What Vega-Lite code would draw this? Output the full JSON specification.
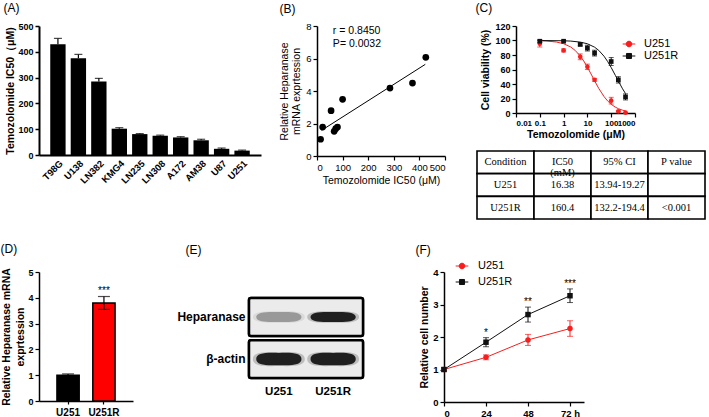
{
  "$schema": "https://vega.github.io/schema/vega-lite/v6.json",
  "padding": {"left": 0, "top": 1, "right": 0, "bottom": 0},
  "config": {
    "font": "Liberation Sans",
    "view": {"stroke": null},
    "axis": {"grid": false, "labelOverlap": false, "domainColor": "black", "tickColor": "black", "labelColor": "black", "titleColor": "black", "labelFont": "Liberation Sans", "titleFont": "Liberation Sans", "tickSize": 4, "tickWidth": 1.2, "domainWidth": 1.5},
    "legend": {"labelFont": "Liberation Sans", "labelColor": "black"}
  },
  "datasets": {
    "a": [
      {"cell": "T98G", "ic50": 429, "hi": 452},
      {"cell": "U138", "ic50": 375, "hi": 390},
      {"cell": "LN382", "ic50": 285, "hi": 297},
      {"cell": "KMG4", "ic50": 102, "hi": 106},
      {"cell": "LN235", "ic50": 81, "hi": 83},
      {"cell": "LN308", "ic50": 75, "hi": 77},
      {"cell": "A172", "ic50": 68, "hi": 71},
      {"cell": "AM38", "ic50": 57, "hi": 61},
      {"cell": "U87", "ic50": 24, "hi": 27},
      {"cell": "U251", "ic50": 17, "hi": 19}
    ],
    "b": [
      {"ic50": 14, "expr": 1.03},
      {"ic50": 22, "expr": 1.78},
      {"ic50": 55, "expr": 2.79},
      {"ic50": 67, "expr": 1.52},
      {"ic50": 73, "expr": 1.68},
      {"ic50": 80, "expr": 1.78},
      {"ic50": 100, "expr": 3.49},
      {"ic50": 285, "expr": 4.18},
      {"ic50": 373, "expr": 4.49},
      {"ic50": 425, "expr": 6.07}
    ],
    "b_fit": [
      {"ic50": 18, "expr": 1.58},
      {"ic50": 423, "expr": 5.64}
    ],
    "b_text": [
      {"ic50": 62, "expr": 7.7, "label": "r = 0.8450"},
      {"ic50": 62, "expr": 6.9, "label": "P= 0.0032"}
    ],
    "c_pts": [
      {"series": "U251", "conc": 0.1, "via": 95.5, "lo": 91, "hi": 100},
      {"series": "U251", "conc": 1, "via": 86.3, "lo": 84.3, "hi": 88.3},
      {"series": "U251", "conc": 5, "via": 77.5, "lo": 73.5, "hi": 81.5},
      {"series": "U251", "conc": 10, "via": 63.7, "lo": 60, "hi": 67.4},
      {"series": "U251", "conc": 20, "via": 45.7, "lo": 43.7, "hi": 47.7},
      {"series": "U251", "conc": 100, "via": 17, "lo": 12.4, "hi": 21.6},
      {"series": "U251", "conc": 200, "via": 2.3, "lo": 1.3, "hi": 3.3},
      {"series": "U251", "conc": 400, "via": 0.5, "lo": 0, "hi": 1},
      {"series": "U251R", "conc": 0.1, "via": 99, "lo": 97.5, "hi": 100.5},
      {"series": "U251R", "conc": 1, "via": 99, "lo": 98, "hi": 100},
      {"series": "U251R", "conc": 5, "via": 94.6, "lo": 92.6, "hi": 96.6},
      {"series": "U251R", "conc": 10, "via": 89.5, "lo": 85.5, "hi": 93.5},
      {"series": "U251R", "conc": 20, "via": 82.6, "lo": 78.6, "hi": 86.6},
      {"series": "U251R", "conc": 100, "via": 71, "lo": 65.5, "hi": 76.5},
      {"series": "U251R", "conc": 200, "via": 45.7, "lo": 41.3, "hi": 50.1},
      {"series": "U251R", "conc": 400, "via": 22.2, "lo": 18, "hi": 26.4}
    ],
    "c_fit": [
      {"series": "U251", "conc": 0.1, "via": 99.6},
      {"series": "U251", "conc": 0.2, "via": 99.2},
      {"series": "U251", "conc": 0.5, "via": 97.9},
      {"series": "U251", "conc": 1, "via": 95.6},
      {"series": "U251", "conc": 2, "via": 91.0},
      {"series": "U251", "conc": 3, "via": 86.6},
      {"series": "U251", "conc": 5, "via": 78.7},
      {"series": "U251", "conc": 7, "via": 71.8},
      {"series": "U251", "conc": 10, "via": 63.2},
      {"series": "U251", "conc": 15, "via": 52.4},
      {"series": "U251", "conc": 20, "via": 44.5},
      {"series": "U251", "conc": 30, "via": 33.9},
      {"series": "U251", "conc": 50, "via": 22.7},
      {"series": "U251", "conc": 70, "via": 16.8},
      {"series": "U251", "conc": 100, "via": 12.0},
      {"series": "U251", "conc": 150, "via": 8.0},
      {"series": "U251", "conc": 200, "via": 6.0},
      {"series": "U251", "conc": 300, "via": 3.9},
      {"series": "U251", "conc": 400, "via": 2.9},
      {"series": "U251R", "conc": 0.1, "via": 100},
      {"series": "U251R", "conc": 1, "via": 99.6},
      {"series": "U251R", "conc": 2, "via": 99.2},
      {"series": "U251R", "conc": 5, "via": 97.8},
      {"series": "U251R", "conc": 10, "via": 95.5},
      {"series": "U251R", "conc": 20, "via": 90.8},
      {"series": "U251R", "conc": 30, "via": 86.4},
      {"series": "U251R", "conc": 50, "via": 78.3},
      {"series": "U251R", "conc": 70, "via": 71.3},
      {"series": "U251R", "conc": 100, "via": 62.7},
      {"series": "U251R", "conc": 150, "via": 51.8},
      {"series": "U251R", "conc": 200, "via": 44.0},
      {"series": "U251R", "conc": 300, "via": 33.4},
      {"series": "U251R", "conc": 400, "via": 26.8}
    ],
    "table": [
      {"row": "header", "col": "Condition", "text": "Condition"},
      {"row": "header", "col": "IC50", "text": "IC50\n(mM)"},
      {"row": "header", "col": "CI", "text": "95% CI"},
      {"row": "header", "col": "P", "text": "P value"},
      {"row": "U251", "col": "Condition", "text": "U251"},
      {"row": "U251", "col": "IC50", "text": "16.38"},
      {"row": "U251", "col": "CI", "text": "13.94-19.27"},
      {"row": "U251", "col": "P", "text": ""},
      {"row": "U251R", "col": "Condition", "text": "U251R"},
      {"row": "U251R", "col": "IC50", "text": "160.4"},
      {"row": "U251R", "col": "CI", "text": "132.2-194.4"},
      {"row": "U251R", "col": "P", "text": "<0.001"}
    ],
    "d": [
      {"group": "U251", "expr": 1.0, "lo": 0.96, "hi": 1.05, "sig": ""},
      {"group": "U251R", "expr": 3.8, "lo": 3.55, "hi": 4.05, "sig": "***"}
    ],
    "e": [
      {"blot": "Heparanase", "lane": "U251", "intensity": 0.35},
      {"blot": "Heparanase", "lane": "U251R", "intensity": 1},
      {"blot": "β-actin", "lane": "U251", "intensity": 1},
      {"blot": "β-actin", "lane": "U251R", "intensity": 1}
    ],
    "f": [
      {"series": "U251", "time": 0, "rel": 1.0, "lo": 0.95, "hi": 1.05, "sig": ""},
      {"series": "U251", "time": 24, "rel": 1.375, "lo": 1.3, "hi": 1.45, "sig": ""},
      {"series": "U251", "time": 48, "rel": 1.91, "lo": 1.74, "hi": 2.08, "sig": ""},
      {"series": "U251", "time": 72, "rel": 2.26, "lo": 2.02, "hi": 2.5, "sig": ""},
      {"series": "U251R", "time": 0, "rel": 1.0, "lo": 0.95, "hi": 1.05, "sig": ""},
      {"series": "U251R", "time": 24, "rel": 1.84, "lo": 1.7, "hi": 1.98, "sig": "*"},
      {"series": "U251R", "time": 48, "rel": 2.69, "lo": 2.46, "hi": 2.92, "sig": "**"},
      {"series": "U251R", "time": 72, "rel": 3.27, "lo": 3.06, "hi": 3.48, "sig": "***"}
    ]
  },
  "spacing": 22,
  "resolve": {"scale": {"color": "independent", "shape": "independent", "opacity": "independent", "fillOpacity": "independent"}},
  "vconcat": [
    {
      "spacing": 18,
      "resolve": {"scale": {"color": "independent", "shape": "independent"}},
      "hconcat": [
        {
          "width": 222, "height": 129,
          "data": {"name": "a"},
          "resolve": {"scale": {"x": "independent"}},
          "layer": [
            {
              "encoding": {
                "x": {"field": "cell", "type": "nominal", "sort": null, "scale": {"paddingInner": 0.25, "paddingOuter": 0.55},
                  "axis": {"title": null, "labelAngle": -45, "labelFontWeight": "bold", "labelFontSize": 9.5, "ticks": false, "domainWidth": 2, "labelPadding": 3, "labelOverlap": false}}
              },
              "layer": [
                {"mark": {"type": "bar", "color": "black"},
                 "encoding": {"y": {"field": "ic50", "type": "quantitative", "scale": {"domain": [0, 500]},
                   "axis": {"values": [0, 100, 200, 300, 400, 500], "tickCount": 20, "format": "d", "labelOverlap": false, "title": "Temozolomide IC50（μM)", "titleFontWeight": "bold", "titleFontSize": 10.5, "labelFontWeight": "bold", "labelFontSize": 9, "domainWidth": 2, "tickWidth": 1.5, "titlePadding": 2}}}},
                {"mark": {"type": "rule", "color": "black", "strokeWidth": 1.2},
                 "encoding": {"y": {"field": "ic50", "type": "quantitative"}, "y2": {"field": "hi"}}},
                {"mark": {"type": "tick", "color": "black", "thickness": 1.2, "size": 8},
                 "encoding": {"y": {"field": "hi", "type": "quantitative"}}}
              ]
            },
            {"mark": {"type": "text", "text": ""},
             "encoding": {"x": {"field": "cell", "type": "nominal", "axis": {"orient": "top", "title": "(A)", "labels": false, "ticks": false, "domain": false, "titleX": -36, "titleY": -19, "titleAlign": "left", "titleBaseline": "middle", "titleAngle": 0, "titleFontSize": 12, "titleFontWeight": "normal"}}}}
          ]
        },
        {
          "spacing": 29,
          "resolve": {"scale": {"color": "independent", "shape": "independent"}},
          "hconcat": [
            {
              "width": 128, "height": 130,
              "resolve": {"scale": {"x": "independent"}},
              "layer": [
                {"layer": [
                  {"data": {"name": "b"}, "mark": {"type": "point", "filled": true, "color": "black", "size": 45, "opacity": 1},
                   "encoding": {
                     "x": {"field": "ic50", "type": "quantitative", "scale": {"domain": [0, 500]},
                       "axis": {"values": [0, 100, 200, 300, 400, 500], "tickCount": 20, "format": "d", "labelOverlap": false, "title": "Temozolomide IC50 (μM)", "titleFontSize": 10.5, "titleFontWeight": "normal", "labelFontSize": 9.5, "labelPadding": 2, "titlePadding": 4}},
                     "y": {"field": "expr", "type": "quantitative", "scale": {"domain": [0, 8]},
                       "axis": {"values": [0, 2, 4, 6, 8], "tickCount": 20, "format": "d", "labelOverlap": false, "title": ["Relative Heparanase", "mRNA exprtession"], "titleFontSize": 10.5, "titleFontWeight": "normal", "titleLineHeight": 12, "labelFontSize": 9.5, "titlePadding": 4}}
                   }},
                  {"data": {"name": "b_fit"}, "mark": {"type": "line", "color": "black", "strokeWidth": 1},
                   "encoding": {"x": {"field": "ic50", "type": "quantitative"}, "y": {"field": "expr", "type": "quantitative"}}},
                  {"data": {"name": "b_text"}, "mark": {"type": "text", "align": "left", "baseline": "middle", "fontSize": 10.5, "color": "black"},
                   "encoding": {"x": {"field": "ic50", "type": "quantitative"}, "y": {"field": "expr", "type": "quantitative"}, "text": {"field": "label"}}}
                ]},
                {"data": {"name": "b"}, "mark": {"type": "text", "text": ""},
                 "encoding": {"x": {"field": "ic50", "type": "quantitative", "axis": {"orient": "top", "title": "(B)", "labels": false, "ticks": false, "domain": false, "titleX": -38, "titleY": -18, "titleAlign": "left", "titleBaseline": "middle", "titleAngle": 0, "titleFontSize": 12, "titleFontWeight": "normal"}}}}
              ]
            },
            {
              "spacing": 10,
              "resolve": {"scale": {"color": "independent", "shape": "independent"}},
              "vconcat": [
                {
                  "width": 119, "height": 87,
                  "resolve": {"scale": {"x": "independent"}},
                  "layer": [
                    {"layer": [
                      {"data": {"name": "c_pts"},
                       "mark": {"type": "point", "filled": false, "size": 1, "strokeWidth": 1, "opacity": 1},
                       "encoding": {"x": {"field": "conc", "type": "quantitative"}, "y": {"field": "via", "type": "quantitative"},
                         "color": {"field": "series", "type": "nominal", "scale": {"domain": ["U251", "U251R"], "range": ["#f81e1e", "#111111"]},
                           "legend": {"title": null, "orient": "none", "legendX": 106, "legendY": 11, "labelFontSize": 11, "labelOffset": 8, "rowPadding": 0, "symbolSize": 160, "symbolStrokeWidth": 1, "symbolOpacity": 1, "padding": 0}},
                         "shape": {"field": "series", "type": "nominal", "scale": {"domain": ["U251", "U251R"], "range": ["M-1,0H1M-0.44,0A0.44,0.44,0,1,1,0.44,0A0.44,0.44,0,1,1,-0.44,0M-0.33,0A0.33,0.33,0,1,1,0.33,0A0.33,0.33,0,1,1,-0.33,0M-0.22,0A0.22,0.22,0,1,1,0.22,0A0.22,0.22,0,1,1,-0.22,0M-0.11,0A0.11,0.11,0,1,1,0.11,0A0.11,0.11,0,1,1,-0.11,0", "M-1,0H1M-0.4,-0.4H0.4V0.4H-0.4ZM-0.3,-0.3H0.3V0.3H-0.3ZM-0.2,-0.2H0.2V0.2H-0.2ZM-0.1,-0.1H0.1V0.1H-0.1Z"]}}
                       }},
                      {"data": {"name": "c_fit"}, "mark": {"type": "line", "strokeWidth": 1},
                       "encoding": {
                         "x": {"field": "conc", "type": "quantitative", "scale": {"type": "log", "domain": [0.01, 1000]},
                           "axis": {"values": [0.01, 0.1, 1, 10, 100, 1000], "tickCount": 20, "labelOverlap": false, "format": "~g", "title": "Temozolomide (μM)", "titleFontSize": 10.5, "titleFontWeight": "bold", "labelFontSize": 8, "labelFontWeight": "bold", "labelPadding": 2, "titlePadding": 2}},
                         "y": {"field": "via", "type": "quantitative", "scale": {"domain": [0, 120]},
                           "axis": {"values": [0, 20, 40, 60, 80, 100, 120], "tickCount": 20, "format": "d", "labelOverlap": false, "title": "Cell viability (%)", "titleFontSize": 10.5, "titleFontWeight": "bold", "labelFontSize": 9, "labelFontWeight": "bold", "titlePadding": 4}},
                         "color": {"field": "series", "type": "nominal"}
                       }},
                      {"data": {"name": "c_pts"}, "mark": {"type": "rule", "strokeWidth": 1},
                       "encoding": {"x": {"field": "conc", "type": "quantitative"}, "y": {"field": "lo", "type": "quantitative"}, "y2": {"field": "hi"},
                         "color": {"field": "series", "type": "nominal"}}},
                      {"data": {"name": "c_pts"}, "mark": {"type": "tick", "orient": "horizontal", "thickness": 1, "size": 5},
                       "encoding": {"x": {"field": "conc", "type": "quantitative"}, "y": {"field": "hi", "type": "quantitative"},
                         "color": {"field": "series", "type": "nominal"}}},
                      {"data": {"name": "c_pts"}, "mark": {"type": "tick", "orient": "horizontal", "thickness": 1, "size": 5},
                       "encoding": {"x": {"field": "conc", "type": "quantitative"}, "y": {"field": "lo", "type": "quantitative"},
                         "color": {"field": "series", "type": "nominal"}}},
                      {"data": {"name": "c_pts"}, "transform": [{"filter": "datum.series == 'U251'"}],
                       "mark": {"type": "point", "filled": true, "size": 22, "opacity": 1, "shape": "circle"},
                       "encoding": {"x": {"field": "conc", "type": "quantitative"}, "y": {"field": "via", "type": "quantitative"},
                         "color": {"field": "series", "type": "nominal"}}},
                      {"data": {"name": "c_pts"}, "transform": [{"filter": "datum.series == 'U251R'"}],
                       "mark": {"type": "point", "filled": true, "size": 22, "opacity": 1, "shape": "square"},
                       "encoding": {"x": {"field": "conc", "type": "quantitative"}, "y": {"field": "via", "type": "quantitative"},
                         "color": {"field": "series", "type": "nominal"}}}
                    ]},
                    {"data": {"name": "c_pts"}, "mark": {"type": "text", "text": ""},
                     "encoding": {"x": {"field": "conc", "type": "quantitative", "axis": {"orient": "top", "title": "(C)", "labels": false, "ticks": false, "domain": false, "titleX": -41, "titleY": -19, "titleAlign": "left", "titleBaseline": "middle", "titleAngle": 0, "titleFontSize": 12, "titleFontWeight": "normal"}}}}
                  ]
                },
                {
                  "width": 189, "height": 68,
                  "data": {"name": "table"},
                  "encoding": {
                    "x": {"field": "col", "type": "nominal", "sort": null, "scale": {"paddingInner": 0, "paddingOuter": 0, "range": [-39, 189]}, "axis": null},
                    "y": {"field": "row", "type": "nominal", "sort": null, "scale": {"paddingInner": 0, "paddingOuter": 0}, "axis": null}
                  },
                  "layer": [
                    {"mark": {"type": "rect", "fill": "white", "stroke": "black", "strokeWidth": 1.6}},
                    {"mark": {"type": "text", "font": "Liberation Serif", "fontSize": 10.5, "color": "black", "lineBreak": "\n", "lineHeight": 11},
                     "encoding": {"text": {"field": "text"}}}
                  ]
                }
              ]
            }
          ]
        }
      ]
    },
    {
      "spacing": 43,
      "resolve": {"scale": {"color": "independent", "shape": "independent", "opacity": "independent", "fillOpacity": "independent"}},
      "hconcat": [
        {
          "width": 94, "height": 129,
          "data": {"name": "d"},
          "resolve": {"scale": {"x": "independent"}},
          "layer": [
            {
              "encoding": {
                "x": {"field": "group", "type": "nominal", "sort": null, "scale": {"paddingInner": 0.38, "paddingOuter": 0.5},
                  "axis": {"title": null, "labelAngle": 0, "labelFontWeight": "bold", "labelFontSize": 10, "tickSize": 3, "domainWidth": 1.5, "labelPadding": 3, "labelOverlap": false}}
              },
              "layer": [
                {"mark": {"type": "bar", "stroke": "black", "strokeWidth": 1.5},
                 "encoding": {
                   "y": {"field": "expr", "type": "quantitative", "scale": {"domain": [0, 5]},
                     "axis": {"values": [0, 1, 2, 3, 4, 5], "tickCount": 20, "format": "d", "labelOverlap": false, "title": ["Relative Heparanase mRNA", "exprtession"], "titleFontSize": 10.5, "titleFontWeight": "bold", "titleLineHeight": 14, "labelFontSize": 9, "labelFontWeight": "bold", "titlePadding": 2}},
                   "color": {"field": "group", "type": "nominal", "sort": null, "scale": {"range": ["black", "#ff0000"]}, "legend": null}
                 }},
                {"mark": {"type": "rule", "color": "black", "strokeWidth": 1.2},
                 "encoding": {"y": {"field": "lo", "type": "quantitative"}, "y2": {"field": "hi"}}},
                {"mark": {"type": "tick", "color": "black", "thickness": 1.2, "size": 12},
                 "encoding": {"y": {"field": "hi", "type": "quantitative"}}},
                {"mark": {"type": "tick", "color": "black", "thickness": 1.2, "size": 12},
                 "encoding": {"y": {"field": "lo", "type": "quantitative"}}},
                {"mark": {"type": "text", "baseline": "bottom", "fontSize": 10, "dy": -1, "color": "black", "fill": "black"},
                 "encoding": {"y": {"field": "hi", "type": "quantitative"}, "text": {"field": "sig"}}}
              ]
            },
            {"mark": {"type": "text", "text": ""},
             "encoding": {"x": {"field": "group", "type": "nominal", "axis": {"orient": "top", "title": "(D)", "labels": false, "ticks": false, "domain": false, "titleX": -39, "titleY": -23.5, "titleAlign": "left", "titleBaseline": "middle", "titleAngle": 0, "titleFontSize": 12, "titleFontWeight": "normal"}}}}
          ]
        },
        {
          "spacing": 50,
          "resolve": {"scale": {"color": "independent", "shape": "independent", "opacity": "independent", "fillOpacity": "independent"}},
          "hconcat": [
            {
              "width": 114, "height": 106,
              "data": {"name": "e"},
              "encoding": {
                "y": {"field": "blot", "type": "nominal", "sort": null,
                  "scale": {"domain": ["Heparanase", "β-actin"], "paddingInner": 0.1, "paddingOuter": 0.31, "align": 1},
                  "axis": {"title": null, "ticks": false, "domain": false, "labelFontWeight": "bold", "labelFontSize": 12, "labelPadding": 4}}
              },
              "resolve": {"scale": {"x": "independent"}},
              "layer": [
                {"layer": [
                  {"mark": {"type": "rect", "fill": "#ebebeb", "stroke": "black", "strokeWidth": 2.5, "cornerRadius": 2}},
                  {"mark": {"type": "point", "filled": true, "color": "#111111", "size": 2700},
                   "encoding": {
                     "x": {"field": "lane", "type": "nominal", "sort": null, "scale": {"type": "band", "paddingInner": 0, "paddingOuter": 0.05},
                       "axis": {"title": null, "ticks": false, "domain": false, "labelAngle": 0, "labelFontWeight": "bold", "labelFontSize": 11.5, "labelPadding": 7}},
                     "shape": {"field": "blot", "type": "nominal", "scale": {"domain": ["Heparanase", "β-actin"], "range": ["M-1,0C-1,-0.2 -0.6,-0.24 0,-0.22C0.6,-0.24 1,-0.2 1,0C1,0.2 0.6,0.24 0,0.22C-0.6,0.24 -1,0.2 -1,0Z", "M-1,0C-1,-0.27 -0.6,-0.29 0,-0.27C0.6,-0.29 1,-0.27 1,0C1,0.27 0.6,0.29 0,0.27C-0.6,0.29 -1,0.27 -1,0Z"]}, "legend": null},
                     "fillOpacity": {"field": "intensity", "type": "quantitative", "scale": {"domain": [0, 1], "range": [0, 0.3]}, "legend": null}
                   }},
                  {"mark": {"type": "point", "filled": true, "color": "#111111", "size": 2050},
                   "encoding": {
                     "x": {"field": "lane", "type": "nominal", "sort": null},
                     "shape": {"field": "blot", "type": "nominal"},
                     "opacity": {"field": "intensity", "type": "quantitative", "scale": {"domain": [0, 1], "range": [0, 0.92]}, "legend": null}
                   }}
                ]},
                {"mark": {"type": "text", "text": ""},
                 "encoding": {"x": {"field": "lane", "type": "nominal", "axis": {"orient": "top", "title": "(E)", "labels": false, "ticks": false, "domain": false, "titleX": -64, "titleY": -22.5, "titleAlign": "left", "titleBaseline": "middle", "titleAngle": 0, "titleFontSize": 12, "titleFontWeight": "normal"}}}}
              ]
            },
            {
              "width": 140, "height": 130,
              "data": {"name": "f"},
              "resolve": {"scale": {"x": "independent"}},
              "layer": [
                {
                  "encoding": {
                    "x": {"field": "time", "type": "quantitative", "scale": {"domain": [0, 80]},
                      "axis": {"values": [0, 24, 48, 72], "tickCount": 20, "labelOverlap": false, "labelExpr": "datum.value == 72 ? '72 h' : datum.label", "title": null, "labelFontSize": 9.5, "labelFontWeight": "bold", "labelPadding": 2}}
                  },
                  "layer": [
                    {"mark": {"type": "point", "filled": false, "size": 1, "strokeWidth": 1, "opacity": 1},
                     "encoding": {"y": {"field": "rel", "type": "quantitative"},
                       "color": {"field": "series", "type": "nominal", "scale": {"domain": ["U251", "U251R"], "range": ["#f81e1e", "#111111"]},
                         "legend": {"title": null, "orient": "none", "legendX": 11, "legendY": -13, "labelFontSize": 11, "labelOffset": 9, "rowPadding": 4, "symbolSize": 160, "symbolStrokeWidth": 1, "symbolOpacity": 1, "padding": 0}},
                       "shape": {"field": "series", "type": "nominal", "scale": {"domain": ["U251", "U251R"], "range": ["M-1,0H1M-0.44,0A0.44,0.44,0,1,1,0.44,0A0.44,0.44,0,1,1,-0.44,0M-0.33,0A0.33,0.33,0,1,1,0.33,0A0.33,0.33,0,1,1,-0.33,0M-0.22,0A0.22,0.22,0,1,1,0.22,0A0.22,0.22,0,1,1,-0.22,0M-0.11,0A0.11,0.11,0,1,1,0.11,0A0.11,0.11,0,1,1,-0.11,0", "M-1,0H1M-0.4,-0.4H0.4V0.4H-0.4ZM-0.3,-0.3H0.3V0.3H-0.3ZM-0.2,-0.2H0.2V0.2H-0.2ZM-0.1,-0.1H0.1V0.1H-0.1Z"]}}
                     }},
                    {"mark": {"type": "line", "strokeWidth": 1},
                     "encoding": {
                       "y": {"field": "rel", "type": "quantitative", "scale": {"domain": [0, 4]},
                         "axis": {"values": [0, 1, 2, 3, 4], "tickCount": 20, "format": "d", "labelOverlap": false, "title": "Relative cell number", "titleFontSize": 10.5, "titleFontWeight": "bold", "labelFontSize": 9.5, "labelFontWeight": "bold", "titlePadding": 3}},
                       "color": {"field": "series", "type": "nominal"}
                     }},
                    {"mark": {"type": "rule", "strokeWidth": 1},
                     "encoding": {"y": {"field": "lo", "type": "quantitative"}, "y2": {"field": "hi"}, "color": {"field": "series", "type": "nominal"}}},
                    {"mark": {"type": "tick", "orient": "horizontal", "thickness": 1, "size": 6},
                     "encoding": {"y": {"field": "hi", "type": "quantitative"}, "color": {"field": "series", "type": "nominal"}}},
                    {"mark": {"type": "tick", "orient": "horizontal", "thickness": 1, "size": 6},
                     "encoding": {"y": {"field": "lo", "type": "quantitative"}, "color": {"field": "series", "type": "nominal"}}},
                    {"transform": [{"filter": "datum.series == 'U251'"}],
                     "mark": {"type": "point", "filled": true, "size": 30, "opacity": 1, "shape": "circle"},
                     "encoding": {"y": {"field": "rel", "type": "quantitative"}, "color": {"field": "series", "type": "nominal"}}},
                    {"transform": [{"filter": "datum.series == 'U251R'"}],
                     "mark": {"type": "point", "filled": true, "size": 30, "opacity": 1, "shape": "square"},
                     "encoding": {"y": {"field": "rel", "type": "quantitative"}, "color": {"field": "series", "type": "nominal"}}},
                    {"transform": [{"filter": "datum.sig != ''"}],
                     "mark": {"type": "text", "baseline": "bottom", "fontSize": 10, "dy": 0, "color": "black", "fill": "black"},
                     "encoding": {"y": {"field": "hi", "type": "quantitative"}, "text": {"field": "sig"}}}
                  ]
                },
                {"mark": {"type": "text", "text": ""},
                 "encoding": {"x": {"field": "time", "type": "quantitative", "axis": {"orient": "top", "title": "(F)", "labels": false, "ticks": false, "domain": false, "titleX": -29, "titleY": -22.5, "titleAlign": "left", "titleBaseline": "middle", "titleAngle": 0, "titleFontSize": 12, "titleFontWeight": "normal"}}}}
              ]
            }
          ]
        }
      ]
    }
  ]
}
